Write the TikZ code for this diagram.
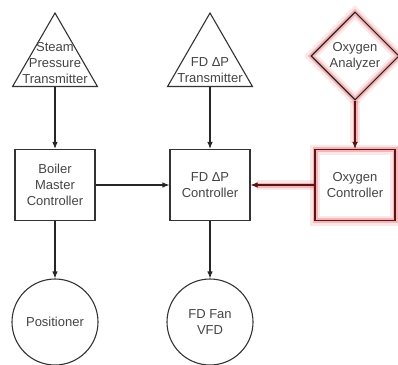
\documentclass[tikz,border=0pt]{standalone}
\usepackage{fontspec}
\setmainfont{Liberation Sans}
\usepackage{xcolor}
\usepackage{tikz}
\usetikzlibrary{shapes,shapes.geometric}
\usetikzlibrary{calc,arrows.meta,positioning}
\definecolor{txtgray}{HTML}{444444}
\definecolor{glowred}{HTML}{E8444A}
\definecolor{darkred}{HTML}{5A1414}
\tikzset{
  lbl/.style = {align=center, text=txtgray, font=\fontsize{13}{16}\selectfont},
  tx_n/.style = {regular polygon, regular polygon sides=3, draw=black!80, line width=1.1pt, minimum size=98pt, inner sep=0pt},
  ctrl_n/.style = {rectangle, draw=black!80, line width=1.1pt, minimum width=80pt, minimum height=71pt, lbl},
  out_n/.style = {circle, draw=black!80, line width=1.1pt, minimum size=86pt, inner sep=0pt, lbl},
  ana_n/.style = {diamond, draw=black!85, line width=1.1pt, minimum size=88pt, inner sep=0pt, lbl},
  glow/.style = {preaction={draw=glowred, line width=10pt, opacity=0.12},
                 preaction={draw=glowred, line width=5pt, opacity=0.3}},
  conn/.style = {draw=black!85, line width=1.1pt, -{Latex[length=7pt,width=5.5pt]}},
  hot/.style = {conn, draw=darkred, glow}
}

\begin{document}
\begin{tikzpicture}[x=1pt,y=-1pt]
	\useasboundingbox (0,0) rectangle (398,364);
	% sensors
	\node [tx_n, label={[lbl, yshift=-1pt]center:Steam\\Pressure\\Transmitter}] (steamtx) at (55,62) {};
	\node [tx_n, label={[lbl, yshift=-8pt]center:FD ΔP\\Transmitter}] (fdtx) at (210,62) {};
	\node [ana_n, glow] (oxan) at (355,56) {Oxygen\\Analyzer};
	% controllers
	\node [ctrl_n] (master) at (55,185) {Boiler\\Master\\Controller};
	\node [ctrl_n] (fdctrl) at (210,185) {FD ΔP\\Controller};
	\node [ctrl_n, draw=darkred, glow] (oxctrl) at (355,185) {Oxygen\\Controller};
	% final elements
	\node [out_n] (pos) at (55,322) {Positioner};
	\node [out_n] (fan) at (210,322) {FD Fan\\VFD};

	\draw [conn] (steamtx.side 2) -- (master.north);
	\draw [conn] (fdtx.side 2) -- (fdctrl.north);
	\draw [hot] (oxan.south) -- (oxctrl.north);
	\draw [conn] (master.east) -- (fdctrl.west);
	\draw [hot] (oxctrl.west) -- (fdctrl.east);
	\draw [conn] (master.south) -- (pos.north);
	\draw [conn] (fdctrl.south) -- (fan.north);
\end{tikzpicture}
\end{document}
